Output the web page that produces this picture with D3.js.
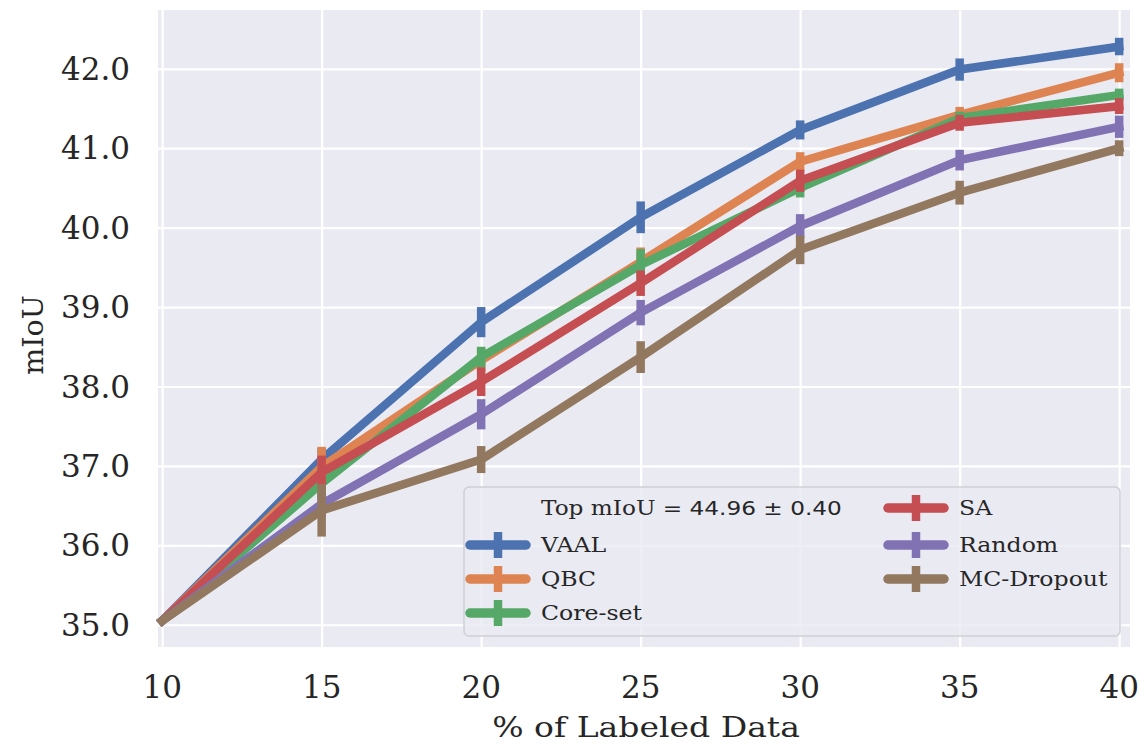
<!DOCTYPE html>
<html>
<head>
<meta charset="utf-8">
<script src="https://cdn.jsdelivr.net/npm/d3@7"></script>
<style>
  body { margin: 0; background: #fff; }
  svg text { font-family: "DejaVu Serif", serif; fill: #262626; }
</style>
</head>
<body>
<div id="chart"></div>
<script>
// data
const percents = [10, 15, 20, 25, 30, 35, 40];
const seriesNames = ["VAAL", "QBC", "Core-set", "SA", "Random", "MC-Dropout"];
const vaal = [35.05, 37.08, 38.81, 40.13, 41.23, 41.99, 42.28];
const qbc = [35.05, 36.99, 38.33, 39.57, 40.83, 41.42, 41.95];
const coreset = [35.05, 36.78, 38.37, 39.53, 40.5, 41.38, 41.67];
const sa = [35.05, 36.92, 38.06, 39.3, 40.59, 41.32, 41.53];
const random = [35.05, 36.52, 37.65, 38.93, 40.02, 40.85, 41.27];
const mcDropout = [35.05, 36.44, 37.08, 38.37, 39.72, 40.44, 41.0];
const vaalErr = [0, 0.15, 0.19, 0.2, 0.12, 0.14, 0.11];
const qbcErr = [0, 0.25, 0.15, 0.18, 0.12, 0.1, 0.12];
const coresetErr = [0, 0.2, 0.13, 0.2, 0.12, 0.08, 0.08];
const saErr = [0, 0.21, 0.18, 0.16, 0.14, 0.1, 0.1];
const randomErr = [0, 0.15, 0.19, 0.16, 0.15, 0.13, 0.14];
const mcDropoutErr = [0, 0.33, 0.17, 0.2, 0.18, 0.15, 0.1];
const yTicks = [35, 36, 37, 38, 39, 40, 41, 42];
const xTicks = [10, 15, 20, 25, 30, 35, 40];
const colors = ["#4c72b0", "#dd8452", "#55a868", "#c44e52", "#8172b3", "#937860"];

const series = [
  [vaal, vaalErr], [qbc, qbcErr], [coreset, coresetErr],
  [sa, saErr], [random, randomErr], [mcDropout, mcDropoutErr],
].map(([vals, errs], i) => ({
  name: seriesNames[i],
  color: colors[i],
  points: percents.map((p, j) => ({ x: p, y: vals[j], e: errs[j] })),
}));

const W = 1141, H = 744;
const plot = { left: 158, right: 1130, top: 10, bottom: 647 };
const lw = 8.5;
const wide = 1.18; // the reference lettering runs wider than DejaVu Serif

const svg = d3.select("#chart").append("svg")
  .attr("width", W).attr("height", H);

const x = d3.scaleLinear([9.87, 40.34], [plot.left, plot.right]);
const y = d3.scaleLinear([34.72, 42.74], [plot.bottom, plot.top]);

svg.append("rect")
  .attr("x", plot.left).attr("y", plot.top)
  .attr("width", plot.right - plot.left)
  .attr("height", plot.bottom - plot.top)
  .attr("fill", "#eaeaf2");

// grid lines via axes
const gx = svg.append("g")
  .attr("transform", `translate(0,${plot.bottom})`)
  .call(d3.axisBottom(x).tickValues(xTicks).tickSize(-(plot.bottom - plot.top)).tickFormat(""));
const gy = svg.append("g")
  .attr("transform", `translate(${plot.left},0)`)
  .call(d3.axisLeft(y).tickValues(yTicks).tickSize(-(plot.right - plot.left)).tickFormat(""));
[gx, gy].forEach((g) => {
  g.select(".domain").remove();
  g.selectAll(".tick line").attr("stroke", "#fff").attr("stroke-width", 2.2);
});

// tick labels
svg.append("g").selectAll("text").data(yTicks).join("text")
  .attr("x", 130).attr("y", (d) => y(d))
  .attr("dy", "0.36em")
  .attr("text-anchor", "end")
  .style("font-size", "31px")
  .text((d) => d3.format(".1f")(d));
svg.append("g").selectAll("text").data(xTicks).join("text")
  .attr("x", (d) => x(d)).attr("y", 698)
  .attr("text-anchor", "middle")
  .style("font-size", "31px")
  .text((d) => d);

svg.append("text")
  .attr("transform", `translate(${(plot.left + plot.right) / 2 + 2},737) scale(${wide},1)`)
  .attr("text-anchor", "middle")
  .style("font-size", "28px")
  .text("% of Labeled Data");
svg.append("text")
  .attr("transform", `translate(43,335) rotate(-90)`)
  .attr("text-anchor", "middle")
  .style("font-size", "28.5px")
  .text("mIoU");

const line = d3.line().x((d) => x(d.x)).y((d) => y(d.y));

series.forEach((s) => {
  const g = svg.append("g");
  g.selectAll("line").data(s.points.filter((d) => d.e > 0)).join("line")
    .attr("x1", (d) => x(d.x)).attr("x2", (d) => x(d.x))
    .attr("y1", (d) => y(d.y - d.e)).attr("y2", (d) => y(d.y + d.e))
    .attr("stroke", s.color).attr("stroke-width", lw);
  g.append("path")
    .datum(s.points)
    .attr("d", line)
    .attr("fill", "none")
    .attr("stroke", s.color)
    .attr("stroke-width", lw)
    .attr("stroke-linejoin", "round")
    .attr("stroke-linecap", "square");
});

// legend
const lg = svg.append("g");
lg.append("rect")
  .attr("x", 464).attr("y", 487)
  .attr("width", 656).attr("height", 149)
  .attr("rx", 5)
  .attr("fill", "#eaeaf2").attr("fill-opacity", 0.8)
  .attr("stroke", "#cfcfd6").attr("stroke-width", 1.5);

const title = lg.append("text")
  .attr("transform", `translate(541,508) scale(1.16,1)`)
  .attr("dy", "0.36em")
  .style("font-size", "20px");
title.append("tspan").text("Top mIoU ");
title.append("tspan").style("font-family", "DejaVu Sans").text("= 44.96 ± 0.40");

const slots = [
  { col: 0, row: 1 }, { col: 0, row: 2 }, { col: 0, row: 3 },
  { col: 1, row: 0 }, { col: 1, row: 1 }, { col: 1, row: 2 },
];
const rowY = [508, 545, 579, 613];
const colX = [470, 888];

series.forEach((s, i) => {
  const { col, row } = slots[i];
  const x0 = colX[col], yy = rowY[row];
  lg.append("line")
    .attr("x1", x0).attr("x2", x0 + 56).attr("y1", yy).attr("y2", yy)
    .attr("stroke", s.color).attr("stroke-width", lw + 1)
    .attr("stroke-linecap", "round");
  lg.append("line")
    .attr("x1", x0 + 28).attr("x2", x0 + 28).attr("y1", yy - 13).attr("y2", yy + 13)
    .attr("stroke", s.color).attr("stroke-width", lw);
  lg.append("text")
    .attr("transform", `translate(${x0 + 71},${yy}) scale(${wide},1)`)
    .attr("dy", "0.36em")
    .style("font-size", "20px")
    .text(s.name);
});
</script>
</body>
</html>
